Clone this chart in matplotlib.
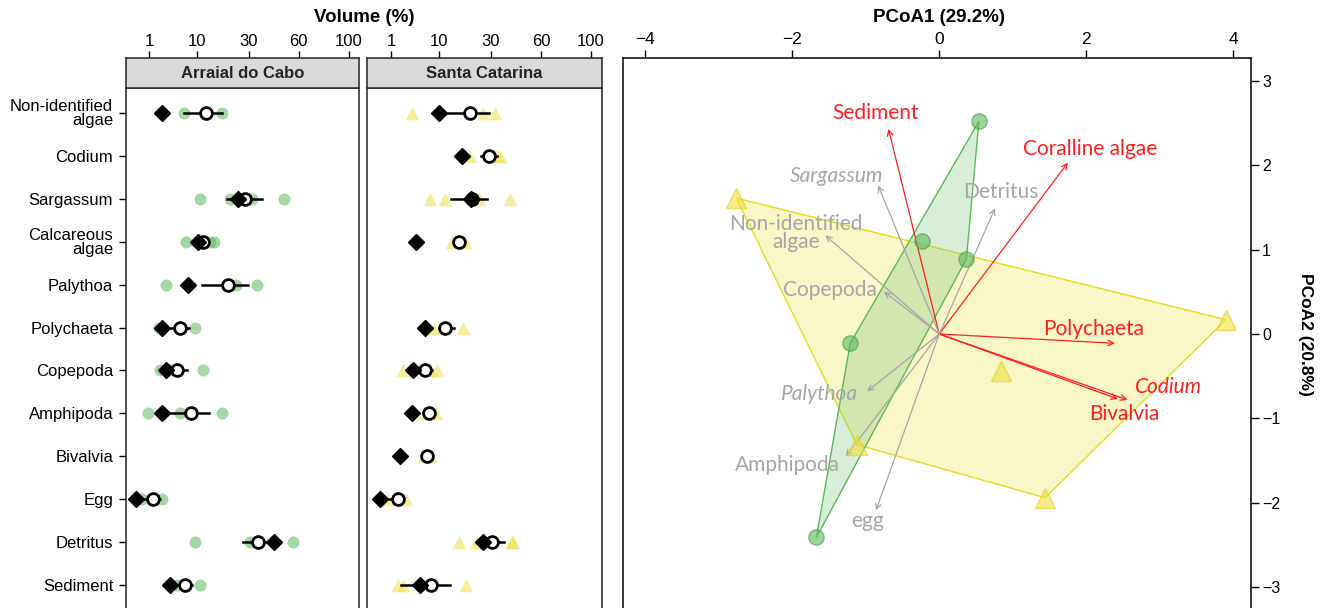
import numpy as np
import matplotlib
matplotlib.use('Agg')
import matplotlib.pyplot as plt
from matplotlib.patches import Polygon

plt.rcParams['font.family'] = ['Liberation Sans', 'DejaVu Sans']

# ---------------- data ----------------
categories = ["Non-identified\nalgae", "Codium", "Sargassum", "Calcareous\nalgae",
              "Palythoa", "Polychaeta", "Copepoda", "Amphipoda", "Bivalvia",
              "Egg", "Detritus", "Sediment"]
vol_ticks = [1, 10, 30, 60, 100]
sites = ["Arraial do Cabo", "Santa Catarina"]

# Arraial do Cabo (green circles = individual samples)
ac_points = [[6.5, 18.5], [], [10.7, 21.6, 31.6, 50.1], [7.0, 9.9, 14.0, 15.5],
             [3.0, 24.2, 34.2], [2.1, 9.4], [2.2, 3.8, 11.7], [0.85, 5.6, 18.4],
             [], [0.45, 2.5], [9.4, 30.8, 55.8], [5.0, 10.7]]
ac_diamond = [2.5, None, 24.8, 10.2, 7.5, 2.5, 3.1, 2.4, None, 0.16, 44.0, 3.7]
ac_mean = [12.5, None, 28.5, 11.6, 20.5, 5.6, 5.1, 8.3, None, 1.4, 35.1, 6.9]
ac_lo = [6.5, None, 20.2, 10.2, 11.4, 3.5, 3.8, 3.2, None, 0.3, 27.5, 4.1]
ac_hi = [18.5, None, 36.9, 13.0, 29.7, 7.7, 7.3, 13.5, None, 2.2, 43.0, 8.5]

# Santa Catarina (yellow triangles = individual samples)
sc_points = [[3.7, 26.3, 32.0], [20.9, 33.1, 34.8], [7.5, 11.6, 24.5, 40.4],
             [14.0, 18.9], [], [8.7, 18.0], [2.3, 7.6, 9.4], [6.1, 9.2],
             [6.1, 7.6], [0.7, 2.8], [16.5, 23.2, 41.3, 42.3], [1.7, 2.3, 19.3]]
sc_diamond = [9.9, 17.6, 21.0, 4.5, None, 6.4, 3.9, 3.7, 2.0, 0.25, 26.2, 5.4]
sc_mean = [20.6, 29.2, 21.5, 16.6, None, 11.6, 6.3, 7.4, 6.9, 1.7, 30.8, 7.7]
sc_lo = [11.0, 25.3, 13.7, 15.5, None, 9.9, 4.2, 6.5, 6.3, 0.3, 24.2, 2.1]
sc_hi = [29.2, 33.4, 28.4, 17.6, None, 14.6, 8.2, 8.3, 7.5, 2.3, 37.0, 13.5]

# PCoA scores
green_x = [0.54, -0.23, 0.37, -1.21, -1.67]
green_y = [2.52, 1.10, 0.89, -0.11, -2.41]
yellow_x = [-2.76, 3.90, 0.84, -1.12, 1.44]
yellow_y = [1.61, 0.17, -0.44, -1.31, -1.94]

# PCoA vectors
vec_names = ["Sediment", "Coralline algae", "Sargassum", "Detritus",
             "Non-identified\nalgae", "Copepoda", "Polychaeta", "Codium",
             "Bivalvia", "Palythoa", "Amphipoda", "egg"]
vec_x = [-0.69, 1.75, -0.83, 0.76, -1.55, -0.75, 2.39, 2.56, 2.43, -0.98, -1.27, -0.86]
vec_y = [2.43, 2.03, 1.76, 1.49, 1.17, 0.50, -0.11, -0.78, -0.77, -0.68, -1.45, -2.09]
vec_sig = [True, True, False, False, False, False, True, True, True, False, False, False]
vec_italic = [False, False, True, False, False, False, False, True, False, True, False, False]
lab_x = [-0.87, 2.05, -1.40, 0.84, -1.95, -1.48, 2.10, 3.12, 2.52, -1.63, -2.07, -0.97]
lab_y = [2.62, 2.19, 1.87, 1.68, 1.20, 0.52, 0.06, -0.63, -0.95, -0.71, -1.55, -2.22]

# ---------------- figure ----------------
W, H = 1330, 608
fig = plt.figure(figsize=(W / 100, H / 100), dpi=100)


def fx(px):
    return px / W


def fy(py):
    return 1 - py / H


def fwd(x):
    x = np.asarray(x, dtype=float)
    return np.sign(x) * np.sqrt(np.abs(x))


def inv(x):
    x = np.asarray(x, dtype=float)
    return np.sign(x) * x ** 2


GREEN = '#5cb85c'
YELLOW = '#ebe04a'
ypos = np.arange(len(categories))

panel_x = [(125.7, 359.3), (367.3, 601.7)]
site_data = [
    (ac_points, ac_diamond, ac_mean, ac_lo, ac_hi, 'o', GREEN, 75),
    (sc_points, sc_diamond, sc_mean, sc_lo, sc_hi, '^', YELLOW, 95),
]
xlim = (inv(-0.07), inv(10.48))

for k, ((x0, x1), (pts, dia, mean, lo, hi, mk, col, ms)) in enumerate(zip(panel_x, site_data)):
    ax = fig.add_axes([fx(x0), fy(610), fx(x1 - x0), (610 - 88) / H])
    ax.set_xscale('function', functions=(fwd, inv))
    ax.set_xlim(*xlim)
    ax.set_ylim(11.58, -0.58)
    for i in range(len(categories)):
        if pts[i]:
            ax.scatter(pts[i], [i] * len(pts[i]), marker=mk, s=ms, color=col,
                       alpha=0.55, linewidths=0, zorder=2)
        if mean[i] is not None:
            ax.plot([lo[i], hi[i]], [i, i], color='black', lw=1.8, zorder=3)
            ax.plot([mean[i]], [i], marker='o', ms=8.5, mfc='white', mec='black',
                    mew=2, zorder=4)
        if dia[i] is not None:
            ax.plot([dia[i]], [i], marker='D', ms=8.3, color='black', zorder=5)
    ax.set_xticks([])
    ax.minorticks_off()
    if k == 0:
        ax.set_yticks(ypos)
        ax.set_yticklabels(categories, fontsize=12, linespacing=0.9)
        ax.tick_params(axis='y', length=5, width=1, pad=4)
    else:
        ax.set_yticks([])
    for s in ax.spines.values():
        s.set_linewidth(1.2)
        s.set_color('#333333')

    # strip
    st = fig.add_axes([fx(x0), fy(88), fx(x1 - x0), 30 / H])
    st.set_facecolor('#d9d9d9')
    st.set_xscale('function', functions=(fwd, inv))
    st.set_xlim(*xlim)
    st.set_ylim(0, 1)
    st.set_yticks([])
    st.xaxis.set_ticks_position('top')
    st.set_xticks(vol_ticks)
    st.set_xticklabels([str(v) for v in vol_ticks], fontsize=12)
    st.minorticks_off()
    st.tick_params(axis='x', length=5, width=1, pad=1.5)
    st.text(0.5, 0.5, sites[k], ha='center', va='center', fontsize=12,
            fontweight='bold', color='#222222', transform=st.transAxes)
    for s in st.spines.values():
        s.set_linewidth(1.2)
        s.set_color('#333333')

fig.text(fx(364), fy(18), 'Volume (%)', ha='center', va='center',
         fontsize=13.5, fontweight='bold')

# ---------------- PCoA biplot ----------------
def hull(xs, ys):
    P = sorted(zip(xs, ys))

    def cross(o, a, b):
        return (a[0] - o[0]) * (b[1] - o[1]) - (a[1] - o[1]) * (b[0] - o[0])
    lower, upper = [], []
    for p in P:
        while len(lower) >= 2 and cross(lower[-2], lower[-1], p) <= 0:
            lower.pop()
        lower.append(p)
    for p in reversed(P):
        while len(upper) >= 2 and cross(upper[-2], upper[-1], p) <= 0:
            upper.pop()
        upper.append(p)
    return lower[:-1] + upper[:-1]


bx = fig.add_axes([fx(623), fy(610), fx(1251 - 623), (610 - 58) / H])
bx.set_xlim(-4.30, 4.24)
bx.set_ylim(-3.27, 3.27)

bx.add_patch(Polygon(hull(yellow_x, yellow_y), closed=True, facecolor='#f6f0a2',
                     alpha=0.6, edgecolor='none', zorder=1))
bx.add_patch(Polygon(hull(yellow_x, yellow_y), closed=True, facecolor='none',
                     edgecolor='#e6dc1e', lw=1, zorder=1.5))
bx.add_patch(Polygon(hull(green_x, green_y), closed=True, facecolor='#7cc47c',
                     alpha=0.3, edgecolor='none', zorder=2))
bx.add_patch(Polygon(hull(green_x, green_y), closed=True, facecolor='none',
                     edgecolor='#5cb85c', lw=1, zorder=2.5))

for i, name in enumerate(vec_names):
    c = '#ff1f1f' if vec_sig[i] else '#a6a6a6'
    bx.annotate('', xy=(vec_x[i], vec_y[i]), xytext=(0, 0),
                arrowprops=dict(arrowstyle='->', color=c, lw=0.9,
                                mutation_scale=10, shrinkA=0, shrinkB=0),
                zorder=3)
    bx.text(lab_x[i], lab_y[i], name, ha='center', va='center', fontsize=15,
            color=c, style='italic' if vec_italic[i] else 'normal',
            family=['Lato', 'DejaVu Sans'], linespacing=0.9, zorder=4)

bx.plot(green_x, green_y, 'o', ms=11, mfc=GREEN, mec='#3f9f3f', alpha=0.6,
        mew=1, zorder=5)
bx.plot(yellow_x, yellow_y, '^', ms=14, mfc='#f0e040', mec='#e0d020', alpha=0.6,
        mew=1, zorder=5)

bx.xaxis.set_ticks_position('top')
bx.yaxis.set_ticks_position('right')
bx.set_xticks([-4, -2, 0, 2, 4])
bx.set_yticks([-3, -2, -1, 0, 1, 2, 3])
bx.tick_params(axis='x', labelsize=12.5, length=6, width=1, pad=2)
bx.tick_params(axis='y', labelsize=11.5, length=6, width=1, pad=2)
for s in bx.spines.values():
    s.set_linewidth(1.1)
    s.set_color('black')

fig.text(fx(939), fy(18), 'PCoA1 (29.2%)', ha='center', va='center',
         fontsize=13.5, fontweight='bold')
fig.text(fx(1306), fy(334), 'PCoA2 (20.8%)', ha='center', va='center',
         fontsize=12.5, fontweight='bold', rotation=270)

fig.savefig('out.png', dpi=100)
